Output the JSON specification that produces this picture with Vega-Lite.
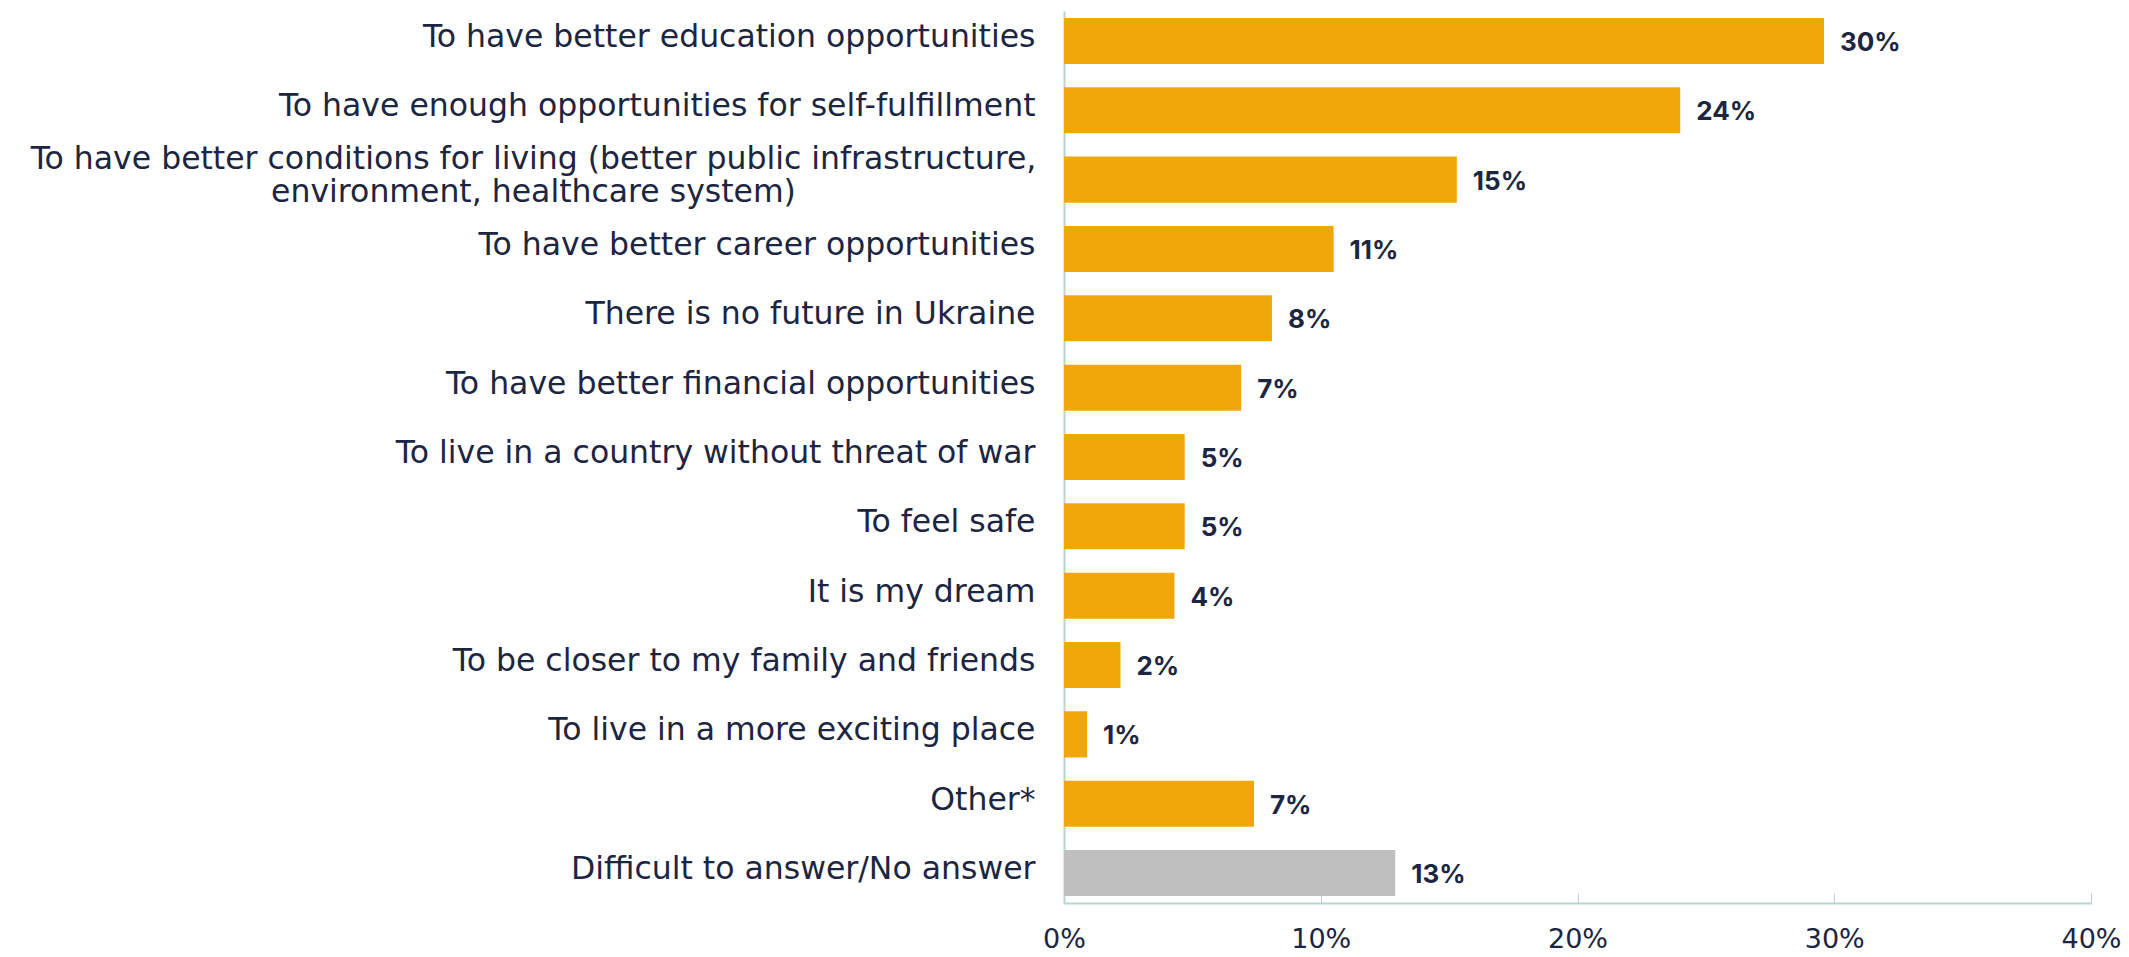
{
  "$schema": "https://vega.github.io/schema/vega-lite/v6.json",
  "width": 1027,
  "height": 892,
  "autosize": {"type": "none"},
  "padding": {"left": 1064, "top": 11, "right": 38, "bottom": 54},
  "background": "white",
  "config": {"view": {"stroke": null}, "font": "Inter"},
  "data": {
    "values": [
      {"reason": "To have better education opportunities", "pct": 29.6, "label": "30%", "kind": "reason"},
      {"reason": "To have enough opportunities for self-fulfillment", "pct": 24.0, "label": "24%", "kind": "reason"},
      {"reason": "To have better conditions for living (better public infrastructure,|environment, healthcare system)", "pct": 15.3, "label": "15%", "kind": "reason"},
      {"reason": "To have better career opportunities", "pct": 10.5, "label": "11%", "kind": "reason"},
      {"reason": "There is no future in Ukraine", "pct": 8.1, "label": "8%", "kind": "reason"},
      {"reason": "To have better financial opportunities", "pct": 6.9, "label": "7%", "kind": "reason"},
      {"reason": "To live in a country without threat of war", "pct": 4.7, "label": "5%", "kind": "reason"},
      {"reason": "To feel safe", "pct": 4.7, "label": "5%", "kind": "reason"},
      {"reason": "It is my dream", "pct": 4.3, "label": "4%", "kind": "reason"},
      {"reason": "To be closer to my family and friends", "pct": 2.2, "label": "2%", "kind": "reason"},
      {"reason": "To live in a more exciting place", "pct": 0.9, "label": "1%", "kind": "reason"},
      {"reason": "Other*", "pct": 7.4, "label": "7%", "kind": "reason"},
      {"reason": "Difficult to answer/No answer", "pct": 12.9, "label": "13%", "kind": "noanswer"}
    ]
  },
  "encoding": {
    "y": {
      "field": "reason",
      "type": "nominal",
      "sort": null,
      "title": null,
      "scale": {"paddingInner": 0.336, "paddingOuter": 0.1},
      "axis": {
        "labelExpr": "split(datum.value, '|')",
        "labelFont": "DejaVu Sans",
        "labelFontSize": 31.5,
        "labelFontWeight": "normal",
        "labelColor": "#1C2541",
        "labelPadding": {"condition": {"test": "indexof(datum.value, '|') >= 0", "value": 531}, "value": 29},
        "labelAlign": {"condition": {"test": "indexof(datum.value, '|') >= 0", "value": "center"}, "value": "right"},
        "labelLimit": 1100,
        "labelLineHeight": 33,
        "labelOffset": {"condition": {"test": "indexof(datum.value, '|') >= 0", "value": -20}, "value": -3},
        "ticks": false,
        "domainColor": "#B7D3D2",
        "domainWidth": 2
      }
    }
  },
  "layer": [
    {
      "mark": {"type": "bar"},
      "encoding": {
        "x": {
          "field": "pct",
          "type": "quantitative",
          "title": null,
          "scale": {"domain": [0, 40], "nice": false},
          "axis": {
            "values": [0, 10, 20, 30, 40],
            "labelExpr": "datum.value + '%'",
            "grid": false,
            "labelFont": "DejaVu Sans",
            "labelFontSize": 27,
            "labelFontWeight": "normal",
            "labelColor": "#1C2541",
            "labelPadding": 33,
            "tickSize": -10,
            "tickColor": "#B7D3D2",
            "domainColor": "#B7D3D2",
            "domainWidth": 2,
            "labelFlush": false
          }
        },
        "color": {
          "field": "kind",
          "type": "nominal",
          "scale": {"domain": ["reason", "noanswer"], "range": ["#F0A70A", "#BFBFBF"]},
          "legend": null
        }
      }
    },
    {
      "mark": {"type": "text", "align": "left", "baseline": "middle", "dx": 16, "dy": 2, "fontSize": 26, "fontWeight": "bold", "color": "#1C2541"},
      "encoding": {
        "x": {"field": "pct", "type": "quantitative"},
        "text": {"field": "label"}
      }
    }
  ]
}
